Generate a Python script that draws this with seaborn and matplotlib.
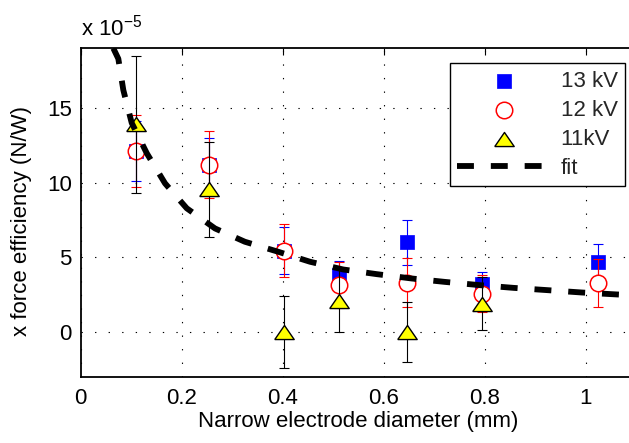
import numpy as np
import pandas as pd
import matplotlib
matplotlib.use("Agg")
import matplotlib.pyplot as plt
import seaborn as sns

# ---- data (values in units of 1e-5 N/W) ----
diam = [0.110, 0.254, 0.403, 0.512, 0.647, 0.794, 1.025]

kv13_y = [12.1, 11.2, 5.45, 3.8, 6.0, 3.2, 4.7]
kv13_err = [2.0, 1.8, 1.55, 0.95, 1.5, 0.8, 1.2]

kv12_y = [12.12, 11.2, 5.45, 3.15, 3.3, 2.55, 3.28]
kv12_err = [2.4, 2.25, 1.8, 1.55, 1.65, 1.25, 1.6]

kv11_x = [0.110, 0.254, 0.403, 0.512, 0.647, 0.794]
kv11_y = [13.9, 9.55, 0.0, 2.1, 0.0, 1.9]
kv11_err = [4.6, 3.2, 2.4, 2.1, 2.0, 1.8]

fit_x = [0.0646, 0.0745, 0.0844, 0.101, 0.131, 0.167, 0.210, 0.266, 0.325, 0.391,
         0.454, 0.520, 0.586, 0.655, 0.721, 0.791, 0.857, 0.923, 0.992, 1.061, 1.10]
fit_y = [19.0, 18.3, 16.2, 14.0, 11.96, 9.95, 8.28, 6.93, 6.04, 5.37,
         4.70, 4.18, 3.87, 3.58, 3.35, 3.13, 2.95, 2.80, 2.64, 2.51, 2.45]

labels = ["13 kV", "12 kV", "11kV", "fit"]
xticks = [0, 0.2, 0.4, 0.6, 0.8, 1.0]
xticklabels = ["0", "0.2", "0.4", "0.6", "0.8", "1"]
yticks = [0, 5, 10, 15]
yticklabels = ["0", "5", "10", "15"]

sns.set_theme(style="white")
plt.rcParams["font.family"] = ["Liberation Sans", "DejaVu Sans"]
plt.rcParams["mathtext.fontset"] = "custom"
plt.rcParams["mathtext.rm"] = "Liberation Sans"
plt.rcParams["mathtext.it"] = "Liberation Sans:italic"
FS = 16

fig = plt.figure(figsize=(6.29, 4.43), dpi=100)
ax = fig.add_axes([0.1283, 0.1497, 0.8832, 0.7413])
ax.set_facecolor("white")

# 13 kV
ax.errorbar(diam, kv13_y, yerr=kv13_err, fmt="none", ecolor="#0000ff",
            elinewidth=0.8, capsize=3.4, capthick=0.8, zorder=2.0)
sns.scatterplot(x=diam, y=kv13_y, marker="s", s=108, color="#0000ff",
                edgecolor="#0000ff", linewidth=0.5, label=labels[0], ax=ax, zorder=2.1)
# 12 kV
ax.errorbar(diam, kv12_y, yerr=kv12_err, fmt="none", ecolor="#ff0000",
            elinewidth=0.8, capsize=3.4, capthick=0.8, zorder=2.2)
sns.scatterplot(x=diam, y=kv12_y, marker="o", s=141, facecolor="white",
                edgecolor="#ff0000", linewidth=1.1, label=labels[1], ax=ax, zorder=2.3)
# 11 kV
ax.errorbar(kv11_x, kv11_y, yerr=kv11_err, fmt="none", ecolor="black",
            elinewidth=0.8, capsize=3.4, capthick=0.8, zorder=2.4)
tri = [(-1, -0.725), (1, -0.725), (0, 0.725), (-1, -0.725)]
sns.scatterplot(x=kv11_x, y=kv11_y, marker=tri, s=196, color="#ffff00",
                edgecolor="black", linewidth=1.0, label=labels[2], ax=ax, zorder=2.5)
# fit
sns.lineplot(x=fit_x, y=fit_y, color="black", lw=4.2, linestyle=(0, (2.9, 2.9)),
             label=labels[3], ax=ax, zorder=2.6, sort=False, estimator=None)

ax.set_xlim(0, 1.1)
ax.set_ylim(-3, 19)
ax.set_xticks(xticks)
ax.set_xticklabels(xticklabels)
ax.set_yticks(yticks)
ax.set_yticklabels(yticklabels)
ax.tick_params(direction="in", length=5, width=0.8, colors="black", labelsize=FS,
               top=True, right=True)
ax.tick_params(axis="x", pad=8.5)
ax.tick_params(axis="y", pad=6.5)
ax.grid(True, color="black", linestyle=(0, (1.2, 11)), linewidth=0.8)
ax.set_axisbelow(True)
for sp in ax.spines.values():
    sp.set_color("black")
    sp.set_linewidth(1.3)

ax.set_xlabel("Narrow electrode diameter (mm)", fontsize=FS, labelpad=1, color="black")
ax.set_ylabel("x force efficiency (N/W)", fontsize=FS, color="black")
ax.yaxis.set_label_coords(-0.087, 0.474)
ax.text(0.0, 1.0 + 13 / 328.4, r"x $\mathregular{10^{-5}}$", transform=ax.transAxes,
        fontsize=FS, ha="left", va="baseline", color="black")

leg = ax.legend(loc="upper right", bbox_to_anchor=(0.980, 0.955), borderaxespad=0,
                fontsize=FS, frameon=True, fancybox=False, framealpha=1,
                edgecolor="black", handlelength=4.2, handletextpad=0.45,
                labelspacing=0.36, borderpad=0.34, scatterpoints=1)
leg.get_frame().set_linewidth(1.0)

fig.savefig("out.png", dpi=100)
